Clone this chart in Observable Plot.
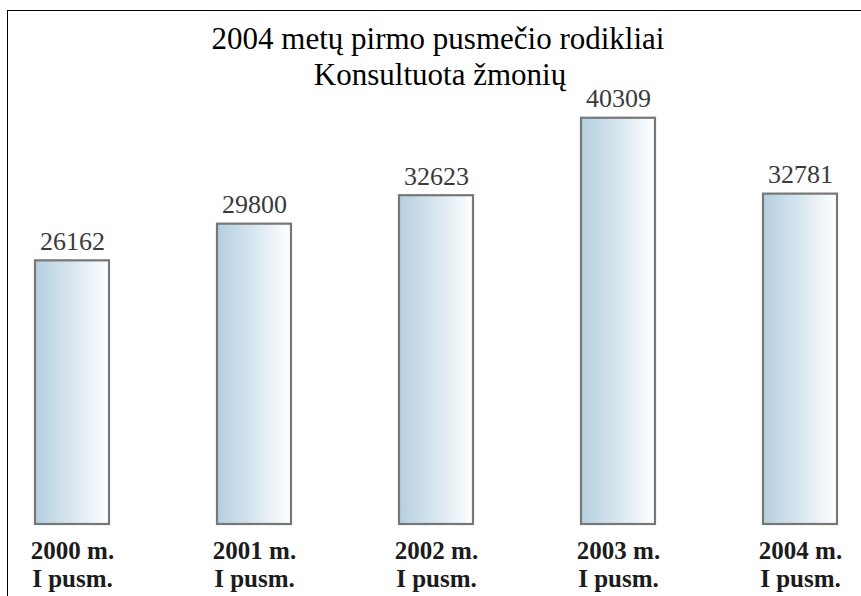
<!DOCTYPE html>
<html>
<head>
<meta charset="utf-8">
<script src="https://cdn.jsdelivr.net/npm/d3@7"></script>
<script src="https://cdn.jsdelivr.net/npm/@observablehq/plot@0.6"></script>
<style>
  html, body { margin: 0; padding: 0; background: #fff; }
  #wrap { position: relative; width: 861px; height: 596px; overflow: hidden; }
  #wrap svg, #wrap svg text, #wrap svg g { font-family: "Liberation Serif", "Times New Roman", Tinos, serif !important; }
  #border { position: absolute; left: 7px; top: 10px; right: -5px; bottom: -5px;
            border-left: 1.5px solid #000; border-top: 1.5px solid #000; pointer-events: none; }
</style>
</head>
<body>
<div id="wrap"><div id="border"></div></div>
<script>
const titleLines = ["2004 metų pirmo pusmečio rodikliai", "Konsultuota žmonių"];
const years = ["2000", "2001", "2002", "2003", "2004"];
const counts = [26162, 29800, 32623, 40309, 32781];
const periodSuffix = " m.\nI pusm.";

const data = years.map((y, i) => ({year: y, value: counts[i]}));
const serif = "Liberation Serif";

const chart = Plot.plot({
  width: 861,
  height: 596,
  marginTop: 10,
  marginBottom: 72,
  marginLeft: 0,
  marginRight: 0,
  style: {background: "transparent"},
  x: {type: "band", domain: years, range: [-19, 891], paddingInner: 0.593, paddingOuter: 0.2965, axis: null},
  y: {domain: [0, 51000], axis: null},
  marks: [
    Plot.barY(data, {x: "year", y: "value", fill: "url(#barGrad)", stroke: "#777", strokeWidth: 2.2}),
    Plot.text(data, {x: "year", y: "value", text: d => String(d.value), lineAnchor: "bottom", dy: -11,
      fontSize: 26, fontFamily: serif, fill: "#3a3a3a"}),
    Plot.text(data, {x: "year", frameAnchor: "bottom", text: d => d.year + periodSuffix, lineAnchor: "top",
      dy: 15, fontSize: 25, fontWeight: "bold", lineHeight: 1.12, fontFamily: serif, fill: "#1c1c1c"}),
    Plot.text([titleLines[0]], {frameAnchor: "top", text: d => d, lineAnchor: "bottom", dy: 38, dx: 7,
      fontSize: 31, fontFamily: serif, fill: "#000"}),
    Plot.text([titleLines[1]], {frameAnchor: "top", text: d => d, lineAnchor: "bottom", dy: 74, dx: 9,
      fontSize: 31, fontFamily: serif, fill: "#000"})
  ]
});

const defs = d3.select(chart).insert("defs", ":first-child");
const grad = defs.append("linearGradient").attr("id", "barGrad")
  .attr("x1", "0").attr("y1", "0").attr("x2", "1").attr("y2", "0");
grad.append("stop").attr("offset", "0%").attr("stop-color", "#b5cfe0");
grad.append("stop").attr("offset", "50%").attr("stop-color", "#d8e6ef");
grad.append("stop").attr("offset", "100%").attr("stop-color", "#ffffff");

document.getElementById("wrap").prepend(chart);
</script>
</body>
</html>
